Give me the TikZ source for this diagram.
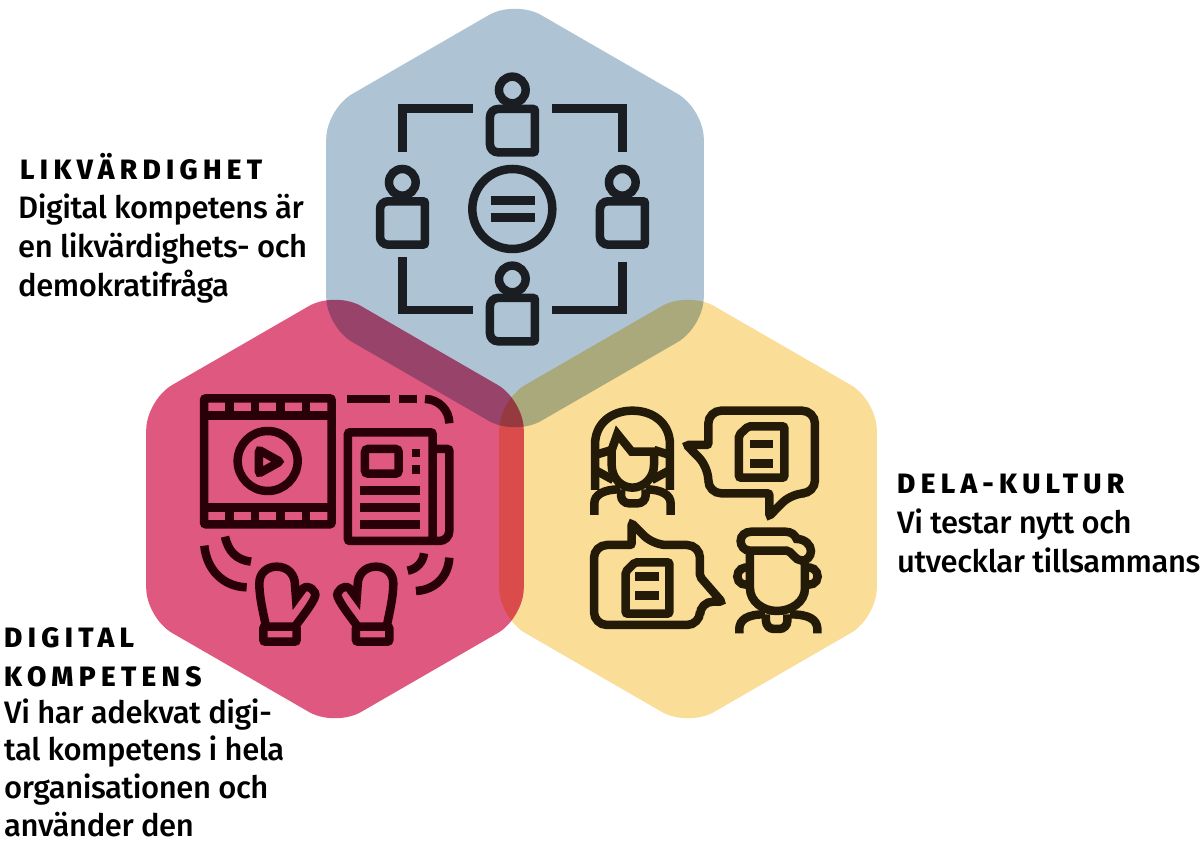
\documentclass[tikz,border=0pt]{standalone}
\usepackage{fontspec}
\newfontfamily\headfont[LetterSpace=19]{Fira Sans ExtraBold}
\newfontfamily\bodyfont[LetterSpace=-1.4]{Fira Sans Medium}
\definecolor{blueink}{HTML}{1A1D22}
\definecolor{pinkink}{HTML}{2A0008}
\definecolor{yellowink}{HTML}{231A08}
\tikzset{
    hexa/.style={rounded corners=30pt,blend mode=multiply},
    icon/.style={shift={#1},x=0.3333pt,y=-0.3333pt,line width=8.5pt},
    head/.style={font=\headfont\fontsize{28}{28}\selectfont,anchor=base west,inner sep=0pt},
    body/.style={font=\bodyfont\fontsize{31}{38.8}\selectfont,anchor=base west,inner sep=0pt,align=left},
    person/.pic={
        \draw (0,0) circle[radius=40];
        \draw[rounded corners=8pt] (-67,187) [rounded corners=2pt] -- (68,187) -- (68,57) [rounded corners=8pt] -- (-67,57) -- cycle;
    },
    mitten/.pic={
        \draw (258,740) .. controls (248,690) and (238,650) .. (238,610)
            .. controls (238,580) and (260,560) .. (290,560)
            .. controls (325,560) and (345,585) .. (345,615) -- (348,655) -- (370,625)
            .. controls (385,612) and (412,635) .. (405,650)
            .. controls (395,675) and (370,705) .. (345,740);
        \draw[rounded corners=2pt] (250,740) rectangle (350,785);
    }
}
\begin{document}
\begin{tikzpicture}[x=1pt,y=-1pt]
\useasboundingbox (0,0) rectangle (1201,845);
\fill[white] (0,0) rectangle (1201,845);
\foreach \cx/\cy/\col in {515/218/AEC3D3,335/509/DF5880,688/509/FADD97} {
    \definecolor{hexcol}{HTML}{\col}
    \fill[hexa,hexcol,shift={(\cx,\cy)}] (90:218) -- (30:218) -- (-30:218) -- (-90:218) -- (-150:218) -- (150:218) -- cycle;
}
\begin{scope}[icon={(330,50)},draw=blueink]
    \foreach \x/\y in {547/120,217/397,877/397,547/687} {
        \pic at (\x,\y) {person};
    }
    \draw (547,477) circle[radius=120];
    \draw (217,305) -- (217,175) -- (428,175);
    \draw (667,175) -- (877,175) -- (877,305);
    \draw (217,622) -- (217,780) -- (428,780);
    \draw (877,635) -- (877,780) -- (667,780);
    \foreach \y in {451,503} {
        \draw (482,\y) -- (615,\y);
    }
\end{scope}
\begin{scope}[icon={(180,380)},draw=pinkink]
    \draw[rounded corners=2pt] (72,55) rectangle (455,433);
    \draw (72,107) -- (455,107);
    \draw (72,382) -- (455,382);
    \foreach \x in {148,225,302,378} {
        \draw (\x,55) -- (\x,107);
        \draw (\x,382) -- (\x,433);
    }
    \draw (263,243) circle[radius=90];
    \draw[rounded corners=2pt] (237,210) -- (237,280) -- (300,245) -- cycle;
    \draw (502,57) -- (630,57);
    \draw (657,57) -- (710,57);
    \draw (735,57) .. controls (775,57) and (808,90) .. (808,130);
    \draw[rounded corners=2pt] (504,157) -- (758,157) -- (758,483) -- (504,483) -- cycle;
    \draw[rounded corners=2pt] (758,207) -- (808,207) [rounded corners=10pt] -- (808,483) -- (758,483);
    \draw[rounded corners=3pt] (555,207) rectangle (656,281);
    \foreach \y in {219,268} {
        \draw (695,\y) -- (720,\y);
    }
    \foreach \y in {331,383,433} {
        \draw (540,\y) -- (720,\y);
    }
    \draw (135,470) .. controls (145,515) and (170,540) .. (213,545);
    \draw (73,497) .. controls (80,570) and (130,620) .. (200,622);
    \draw (732,520) .. controls (730,545) and (710,568) .. (683,572);
    \draw (808,533) .. controls (805,590) and (765,630) .. (708,633);
    \pic {mitten};
    \pic[xscale=-1] at (878,0) {mitten};
\end{scope}
\begin{scope}[icon={(570,390)},draw=yellowink]
    \draw (75,300) -- (75,165) .. controls (75,100) and (125,62) .. (187,62)
        .. controls (250,62) and (300,100) .. (300,165) -- (300,300);
    \draw (142,132) -- (125,180) -- (125,225) .. controls (125,265) and (155,293) .. (187,293)
        .. controls (220,293) and (252,265) .. (252,225) -- (252,185) -- (185,185) -- cycle;
    \draw (75,195) -- (125,180);
    \draw (75,240) -- (130,270);
    \draw (300,195) -- (252,180);
    \draw (300,240) -- (245,270);
    \draw (73,375) -- (73,340) .. controls (73,315) and (100,298) .. (150,298);
    \draw (302,375) -- (302,340) .. controls (302,315) and (275,298) .. (227,298);
    \draw[rounded corners=8pt] (153,298) -- (153,340) -- (227,340) -- (227,298);
    \draw[rounded corners=13pt] (415,150) -- (415,62) -- (735,62) -- (735,310) -- (665,310)
        [rounded corners=2pt] -- (598,378) -- (598,310) [rounded corners=13pt] -- (415,310) -- (415,232)
        [rounded corners=2pt] -- (350,165) -- (415,165) -- cycle;
    \draw[rounded corners=2pt] (507,135) -- (535,109) -- (643,109) -- (643,263) -- (507,263) -- cycle;
    \foreach \y in {162,220} {
        \draw (540,\y) -- (610,\y);
    }
    \draw[rounded corners=13pt] (185,465) -- (72,465) -- (72,705) -- (390,705) -- (390,635)
        [rounded corners=2pt] -- (455,635) -- (390,560) [rounded corners=13pt] -- (390,465) -- (250,465)
        [rounded corners=2pt] -- (185,400) -- cycle;
    \draw[rounded corners=2pt] (167,545) -- (195,517) -- (298,517) -- (298,671) -- (167,671) -- cycle;
    \foreach \y in {559,617} {
        \draw (195,\y) -- (268,\y);
    }
    \draw (540,482) .. controls (522,482) and (512,467) .. (512,453)
        .. controls (512,437) and (525,425) .. (545,425) -- (645,425)
        .. controls (665,425) and (675,435) .. (680,447)
        .. controls (705,447) and (723,465) .. (723,483)
        .. controls (723,500) and (710,512) .. (695,512)
        .. controls (675,512) and (665,482) .. (650,482) -- cycle;
    \draw (540,482) -- (540,595) .. controls (540,635) and (580,663) .. (620,663)
        .. controls (665,663) and (705,635) .. (705,595) -- (705,510);
    \draw (540,535) .. controls (520,527) and (502,540) .. (502,560)
        .. controls (502,580) and (525,590) .. (540,580);
    \draw (705,535) .. controls (725,527) and (743,540) .. (743,560)
        .. controls (743,580) and (720,590) .. (705,580);
    \draw (508,730) -- (508,715) .. controls (510,690) and (530,673) .. (585,673);
    \draw (742,730) -- (742,715) .. controls (740,690) and (720,673) .. (660,673);
    \draw[rounded corners=8pt] (588,673) -- (588,717) -- (652,717) -- (652,673);
\end{scope}
\node[head] (likhead) at (20,179) {LIKVÄRDIGHET};
\node[body] (likbody) at (18,296) {Digital kompetens är\\en likvärdighets- och\\demokratifråga};
\node[head] (delahead) at (897,493) {DELA-KULTUR};
\node[body] (delabody) at (897,572) {Vi testar nytt och\\utvecklar tillsammans};
\node[head] (diga) at (4,647) {DIGITAL};
\node[head] (digb) at (4,686) {KOMPETENS};
\node[body] (digbody) at (4,836.5) {Vi har adekvat digi-\\[-1pt]tal kompetens i hela\\[-1pt]organisationen och\\[-1pt]använder den};
\end{tikzpicture}
\end{document}
